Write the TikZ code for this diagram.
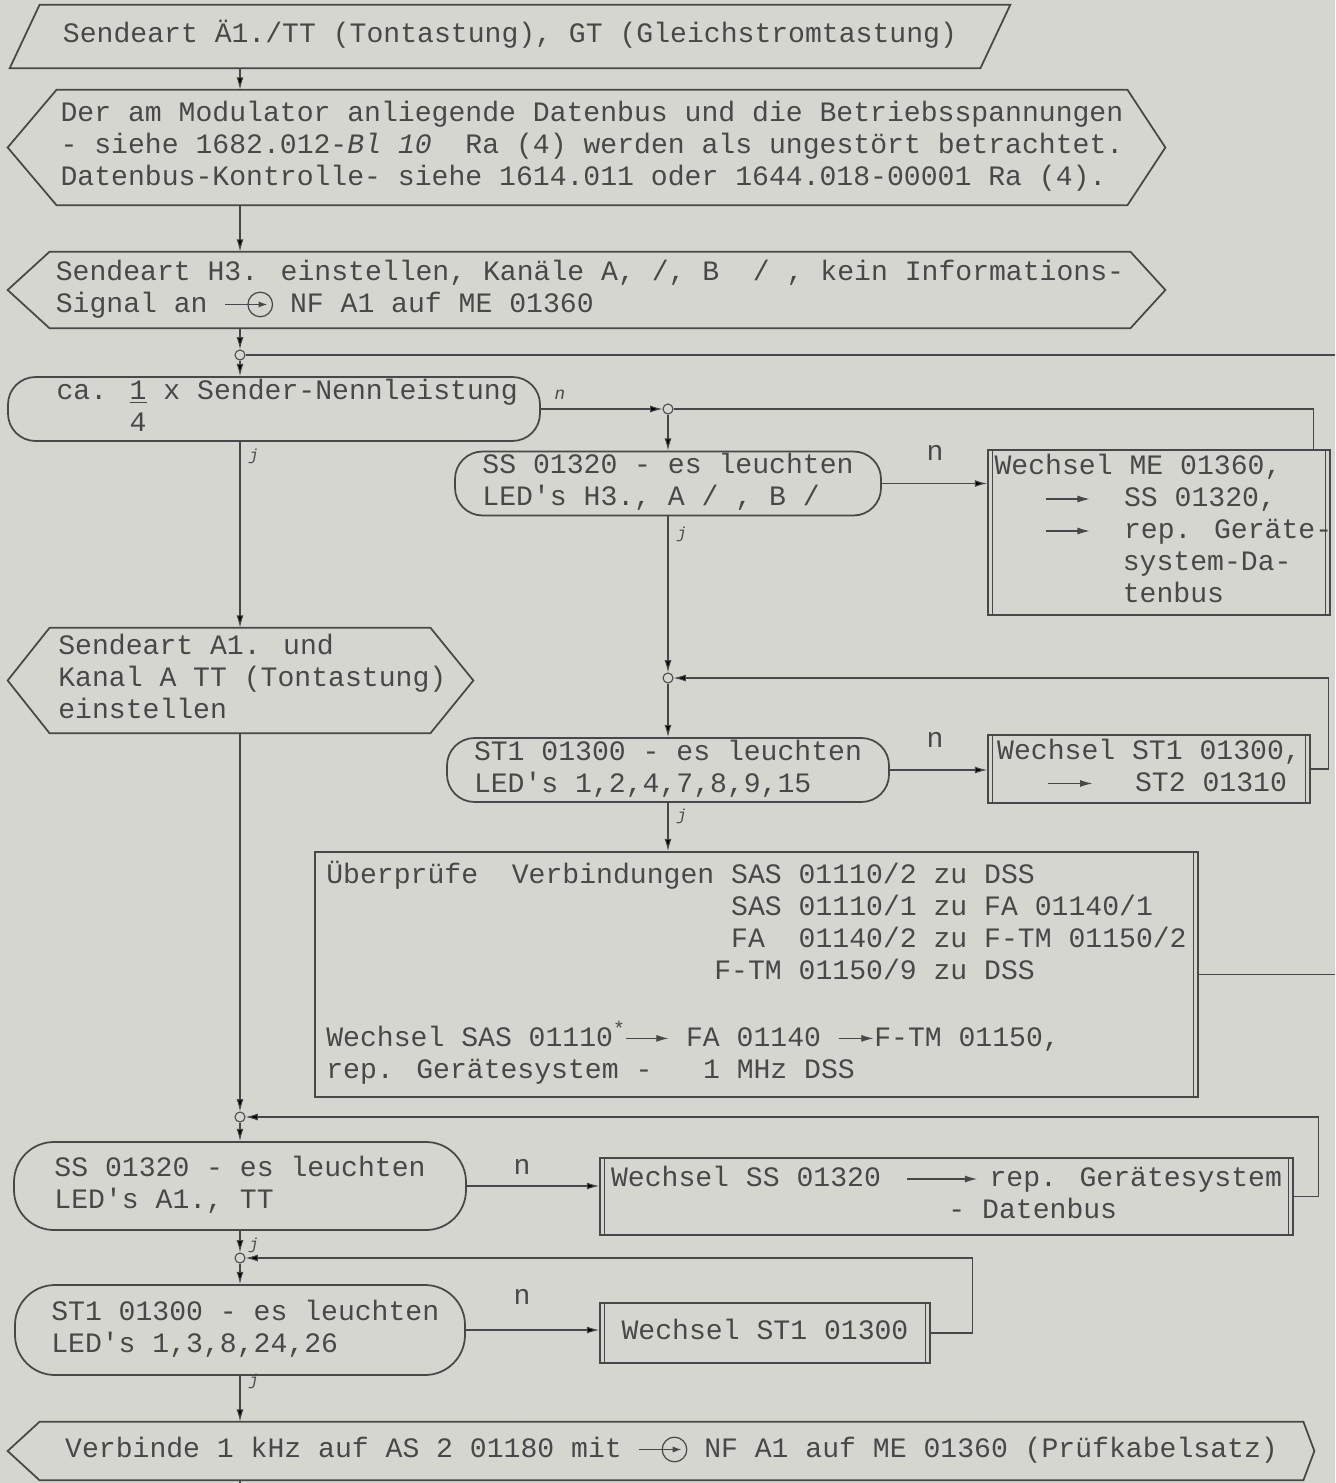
\documentclass[tikz,border=0pt]{standalone}
\usepackage{fontspec}
\setmainfont{Liberation Mono}
\usetikzlibrary{arrows.meta,calc}
\definecolor{paper}{RGB}{214,214,209}
\definecolor{ink}{RGB}{72,72,72}
\tikzset{
  rand/.style={draw=ink, line width=1pt},
  lin/.style={draw=ink, line width=0.6pt},
  arr/.style={lin, -{Latex[length=7pt,width=4pt]}},
  gr/.style 2 args={inner sep=0pt, minimum width=#1*0.02cm, minimum height=#2*0.02cm},
  term/.style={rand, rounded corners=#1},
  term/.default=0.55cm,
  wbox/.style={rand},
  knoten/.style={circle, draw=ink, line width=0.6pt, fill=paper, inner sep=0pt, minimum size=0.2cm},
  ja/.style={font=\fontsize{9}{10}\selectfont\itshape, anchor=west},
}
\newcommand\zeilen[2][0pt]{\makebox[0pt]{\hspace*{#1}\begin{tabular}{@{}l@{}}#2\end{tabular}}}
\newcommand\leer[1]{\hspace*{#1\fontcharwd\font`0}}
\newcommand\pfeil[1]{\tikz[baseline=-4.5pt]\draw[ink, line width=0.7pt, -{Latex[length=7pt,width=4pt]}] (0pt,0pt) -- (#1,0pt);}
\newcommand\buchse{\tikz[baseline=-4.5pt]{\draw[ink, line width=0.7pt, -{Latex[length=5pt,width=3.5pt]}] (0pt,0pt) -- (24pt,0pt); \draw[ink, line width=0.7pt] (20pt,0pt) circle (7pt);}}
\newcommand\sechseck[3]{\draw[rand] (#1.north west) -- (#1.north east) -- ($(#1.east)+(#3,0)$) -- (#1.south east) -- (#1.south west) -- ($(#1.west)+(-#2,0)$) -- cycle;}

\begin{document}
\begin{tikzpicture}[x=0.02cm, y=-0.02cm, font=\fontsize{16}{18.2}\selectfont, text=ink]
  \fill[paper] (0,0) rectangle (1335,1483);
  \useasboundingbox (0,0) rectangle (1335,1483);

  % main column
  \node[gr={1000}{63}] (ptop) at (510,36.5) {\zeilen{Sendeart Ä1./TT (Tontastung), GT (Gleichstromtastung)}};
  \draw[rand] ($(ptop.north west)+(30,0)$) -- (ptop.north east) -- ($(ptop.south east)+(-30,0)$) -- (ptop.south west) -- cycle;
  \node[gr={1070}{115}] (hpre) at (592,147.5) {\zeilen{Der am Modulator anliegende Datenbus und die Betriebsspannungen\\
    - siehe 1682.012-\textit{Bl 10}\leer{2}Ra (4) werden als ungestört betrachtet.\\
    Datenbus-Kontrolle- siehe 1614.011 oder 1644.018-00001 Ra (4).}};
  \sechseck{hpre}{49}{38}
  \node[gr={1080}{76}] (hsend) at (590,290) {\zeilen{Sendeart H3. einstellen, Kanäle A, /, B\leer{2}/ , kein Informations-\\
    Signal an \buchse{} NF A1 auf ME 01360}};
  \sechseck{hsend}{42}{35}
  \node[knoten] (j1) at (240,355) {};
  \coordinate (rechts1) at (1335,355);
  \node[term, gr={532}{62}] (ca) at (274,409) {\zeilen[15pt]{ca. \begin{tabular}[t]{@{}c@{}}\underline{1}\\4\end{tabular} x Sender-Nennleistung}};

  % right branch
  \node[knoten] (j2) at (668,409) {};
  \node[term, gr={426}{63}] (ss1) at (668,483.5) {\zeilen{SS 01320 - es leuchten\\LED\textquotesingle s H3., A / , B /}};
  \node[wbox, gr={342}{165}] (wme) at (1159,532.5) {\zeilen[5pt]{Wechsel ME 01360,\\
    \leer{3}\pfeil{25pt}\leer{2}SS 01320,\\
    \leer{3}\pfeil{25pt}\leer{2}rep. Geräte-\\
    \leer{7.6}system-Da-\\
    \leer{7.6}tenbus}};
  \node[knoten] (j3) at (668,678) {};
  \node[term, gr={442}{60}] (st1) at (668,770) {\zeilen{ST1 01300 - es leuchten\\LED\textquotesingle s 1,2,4,7,8,9,15}};
  \node[wbox, gr={322}{68}] (wst) at (1149,769) {\zeilen{Wechsel ST1 01300,\\
    \leer{3}\pfeil{25pt}\leer{2.5}ST2 01310}};
  \node[wbox, gr={883}{245}] (pr) at (756.5,974.5) {\zeilen{Überprüfe\leer{2}Verbindungen SAS 01110/2 zu DSS\\
    \leer{24}SAS 01110/1 zu FA 01140/1\\
    \leer{24}FA\leer{2}01140/2 zu F-TM 01150/2\\
    \leer{23}F-TM 01150/9 zu DSS\\
    \\
    Wechsel SAS 01110\textsuperscript{*}\pfeil{24pt} FA 01140 \pfeil{20pt}F-TM 01150,\\
    rep. Gerätesystem - \leer{2}1 MHz DSS}};

  % lower part
  \node[gr={380}{105}] (sa1) at (240,680.5) {\zeilen[14pt]{Sendeart A1. und\\Kanal A TT (Tontastung)\\einstellen}};
  \sechseck{sa1}{42}{43}
  \node[knoten] (j4) at (240,1117) {};
  \node[term=0.8cm, gr={452}{88}] (ss2) at (240,1186) {\zeilen{SS 01320 - es leuchten\\LED\textquotesingle s A1., TT}};
  \node[wbox, gr={693}{77}] (wss) at (946.5,1196.5) {\zeilen{Wechsel SS 01320\leer{1.5}\pfeil{40pt}\leer{0.7}rep. Gerätesystem\\
    \leer{20}- Datenbus}};
  \node[knoten] (j5) at (240,1258) {};
  \node[term=0.8cm, gr={450}{90}] (st2) at (240,1330) {\zeilen[6pt]{ST1 01300 - es leuchten\\LED\textquotesingle s 1,3,8,24,26}};
  \node[wbox, gr={330}{60}] (wst2) at (765,1333) {\zeilen{Wechsel ST1 01300}};
  \node[gr={1263}{58}] (hend) at (671.5,1451) {\zeilen{Verbinde 1 kHz auf AS 2 01180 mit \buchse{} NF A1 auf ME 01360 (Prüfkabelsatz)}};
  \sechseck{hend}{32}{11}
  \coordinate (unten) at (240,1483);

  % double side lines
  \foreach \b in {wme,wst,wss,wst2} {
    \draw[lin] ([xshift=3pt]\b.north west) -- ([xshift=3pt]\b.south west)
      ([xshift=-3pt]\b.north east) -- ([xshift=-3pt]\b.south east);
  }
  \draw[lin] ([xshift=-3pt]pr.north east) -- ([xshift=-3pt]pr.south east);

  % connectors
  \draw[arr] (ptop.south -| j1) -- (hpre.north -| j1);
  \draw[arr] (hpre.south -| j1) -- (hsend.north -| j1);
  \draw[arr] (hsend.south -| j1) -- (j1);
  \draw[arr] (j1) -- (ca.north -| j1);
  \draw[lin] (j1) -- (rechts1);
  \draw[arr] (ca.east) -- (j2);
  \draw[arr] (j2) -- (ss1);
  \draw[arr] (ss1.east) -- (ss1.east -| wme.west);
  \draw[lin] ($(wme.north east)+(-17,0)$) |- (j2);
  \draw[arr] (ss1) -- (j3);
  \draw[arr] (j3) -- (st1);
  \draw[arr] (st1.east) -- (st1.east -| wst.west);
  \draw[arr] (wst.east) -- ++(18,0) |- (j3);
  \draw[arr] (st1.south) -- (st1.south |- pr.north);
  \draw[lin] (pr.east) -- (pr.east -| rechts1);
  \draw[arr] (ca.south -| j1) -- (sa1.north -| j1);
  \draw[arr] (sa1.south -| j4) -- (j4);
  \draw[arr] (j4) -- (ss2);
  \draw[arr] (ss2.east) -- (ss2.east -| wss.west);
  \draw[arr] (wss.east) -- ++(25,0) |- (j4);
  \draw[arr] (ss2) -- (j5);
  \draw[arr] (j5) -- (st2);
  \draw[arr] (st2.east) -- (st2.east -| wst2.west);
  \draw[arr] (wst2.east) -- ++(42,0) |- (j5);
  \draw[arr] (st2.south) -- (st2.south |- hend.north);
  \draw[lin] (hend.south -| unten) -- (unten);

  % branch labels
  \node[font=\fontsize{10}{12}\selectfont\itshape] (nca) at (560,395) {n};
  \node (nss1) at (935,453) {n};
  \node (nst1) at (935,740) {n};
  \node (nss2) at (522,1167) {n};
  \node (nst2) at (522,1297) {n};
  \node[ja] (jca) at (243,456) {j};
  \node[ja] (jss1) at (671,534) {j};
  \node[ja] (jst1) at (671,816) {j};
  \node[ja] (jss2) at (243,1245) {j};
  \node[ja] (jst2) at (243,1381) {j};
\end{tikzpicture}
\end{document}
